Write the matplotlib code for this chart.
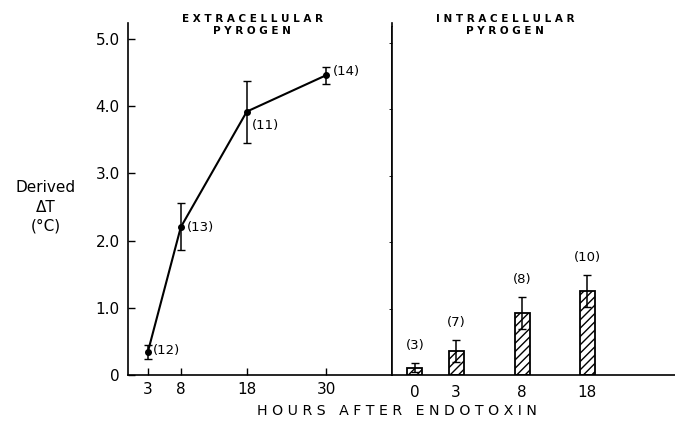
import numpy as np
import matplotlib.pyplot as plt

# extracellular pyrogen (line)
ext_hours = [3, 8, 18, 30]
ext_dt = [0.34, 2.2, 3.92, 4.46]
ext_err_lo = [0.10, 0.34, 0.47, 0.13]
ext_err_hi = [0.10, 0.36, 0.46, 0.13]
ext_n = ["(12)", "(13)", "(11)", "(14)"]

# intracellular pyrogen (bars)
int_hours = ["0", "3", "8", "18"]
int_dt = [0.11, 0.36, 0.93, 1.26]
int_err = [0.07, 0.16, 0.24, 0.24]
int_n = ["(3)", "(7)", "(8)", "(10)"]

plt.rcParams['font.family'] = ['DejaVu Sans']
plt.rcParams['hatch.linewidth'] = 1.0

fig = plt.figure(figsize=(6.75, 4.28), dpi=100)
ax1 = fig.add_axes([128/675, 53/428, 264/675, 352/428])
ax2 = fig.add_axes([392/675, 53/428, 283/675, 348/428])

ymax = 352 / 67.2
for ax in (ax1, ax2):
    ax.set_ylim(0, ymax)
    ax.spines['top'].set_visible(False)

# left panel
ax1.errorbar(ext_hours, ext_dt, yerr=[ext_err_lo, ext_err_hi], color='black',
             marker='o', markersize=4, lw=1.5, capsize=3, elinewidth=1.1)
offs = [(0.8, 0.02), (0.9, 0), (0.8, -0.2), (1.0, 0.05)]
for h, v, t, (dx, dy) in zip(ext_hours, ext_dt, ext_n, offs):
    ax1.text(h + dx, v + dy, t, fontsize=9.5, va='center', ha='left')
ax1.set_xlim(0, 40)
ax1.set_xticks(ext_hours)
ax1.set_yticks([0, 1, 2, 3, 4, 5])
ax1.set_yticklabels(["0", "1.0", "2.0", "3.0", "4.0", "5.0"])
ax1.tick_params(direction='in', length=5, width=1, labelsize=11, pad=6)
ax1.tick_params(axis='x', pad=5)
for s in ax1.spines.values():
    s.set_linewidth(1.2)

# right panel
pos = np.array([0.383, 1.067, 2.167, 3.25])
ax2.bar(pos, int_dt, width=0.25, color='white', edgecolor='black',
        hatch='////', linewidth=1.3, zorder=2)
ax2.errorbar(pos, int_dt, yerr=int_err, fmt='none', ecolor='black',
             capsize=3, elinewidth=1.1, zorder=3)
for p, v, e, t in zip(pos, int_dt, int_err, int_n):
    ax2.text(p, v + e + 0.27, t, fontsize=9.5, ha='center', va='center')
ax2.set_xlim(0, 283/60)
ax2.set_xticks(pos)
ax2.set_xticklabels(int_hours)
ax2.tick_params(axis='x', length=0, labelsize=11, pad=7)
ax2.set_yticks([1, 2, 3, 4, 5])
ax2.set_yticklabels([])
ax2.tick_params(axis='y', direction='out', length=2, width=0.6)
ax2.spines['right'].set_visible(False)
for s in ax2.spines.values():
    s.set_linewidth(1.2)

fig.text(252/675, 1 - 25/428, "E X T R A C E L L U L A R\nP Y R O G E N", ha='center',
         va='center', fontsize=7.5, fontweight='bold', linespacing=1.3)
fig.text(505/675, 1 - 25/428, "I N T R A C E L L U L A R\nP Y R O G E N", ha='center',
         va='center', fontsize=7.5, fontweight='bold', linespacing=1.3)
fig.text(46/675, 1 - 207/428, "Derived\n\u0394T\n(\u00b0C)", ha='center', va='center',
         fontsize=11, linespacing=1.35)
fig.text(397/675, 1 - 411/428, "H O U R S   A F T E R   E N D O T O X I N", ha='center',
         va='center', fontsize=10.2)

fig.savefig("out.png", dpi=100)
